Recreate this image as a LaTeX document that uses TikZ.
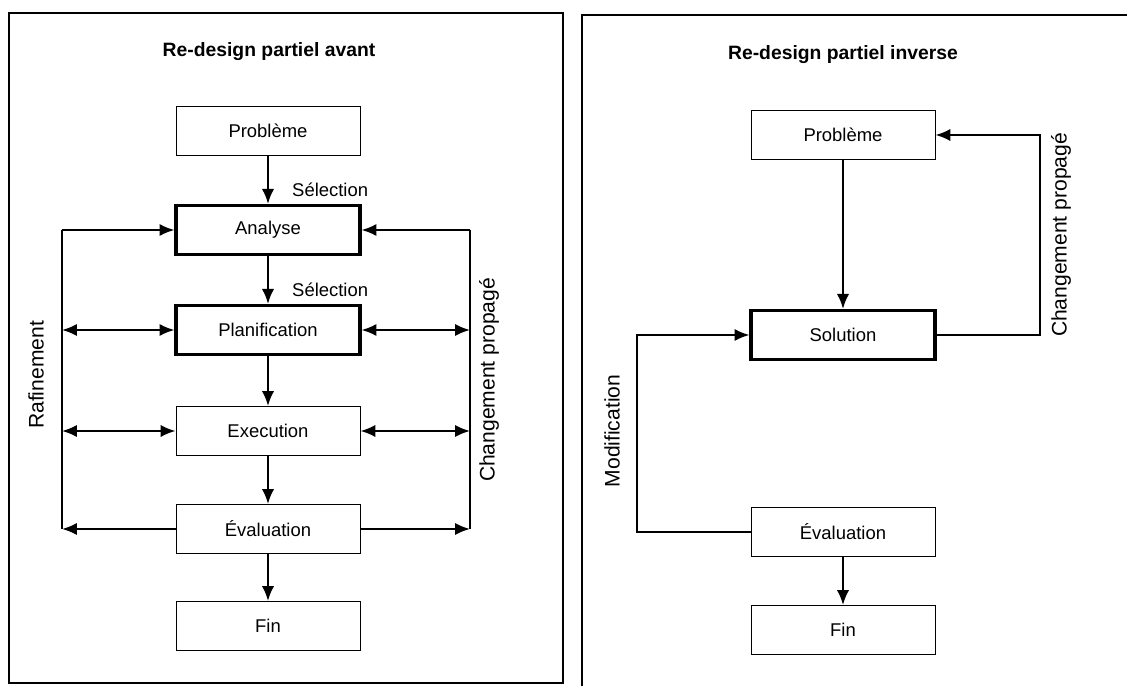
\documentclass[tikz,border=0pt]{standalone}
\usepackage{fontspec}
\setmainfont{Liberation Sans}
\usepackage{tikz}
\usetikzlibrary{positioning, calc, arrows.meta}

\tikzset{
  etape/.style={draw, line width=0.5pt, minimum width=3.68cm, minimum height=0.98cm,
    font=\fontsize{10.5}{12}\selectfont},
  etapeforte/.style={etape, line width=1.8pt},
  fleche/.style={line width=1.2pt, -{Latex[length=8.5pt,width=7pt]}},
  doublefleche/.style={line width=1.2pt, {Latex[length=8.5pt,width=7pt]}-{Latex[length=8.5pt,width=7pt]}},
  trait/.style={line width=1.2pt},
  titre/.style={font=\bfseries\fontsize{11}{13}\selectfont},
  etiquette/.style={font=\fontsize{10.5}{12}\selectfont},
  cote/.style={font=\fontsize{12}{14}\selectfont, rotate=90}
}

\begin{document}
\begin{tikzpicture}[x=0.02cm, y=-0.02cm]
  \useasboundingbox (0,0) rectangle (1127,686);

  % cadres
  \draw[line width=0.6pt] (9,13) rectangle (563,683);
  \draw[line width=0.6pt] (582,686) -- (582,15) -- (1127,15);

  % re-design partiel avant
  \node[titre] (titreA) at (269,52) {Re-design partiel avant};
  \node[etape] (probA) at (268,131) {Problème};
  \node[etapeforte] (ana) at (268,230) {Analyse};
  \node[etapeforte] (pla) at (268,330) {Planification};
  \node[etape] (exe) at (268,431) {Execution};
  \node[etape] (evaA) at (268,529) {Évaluation};
  \node[etape] (finA) at (268,626) {Fin};

  \draw[fleche] (probA) -- (ana);
  \draw[fleche] (ana) -- (pla);
  \draw[fleche] (pla) -- (exe);
  \draw[fleche] (exe) -- (evaA);
  \draw[fleche] (evaA) -- (finA);

  \node[etiquette, anchor=west] (sel1) at (286,190) {Sélection};
  \node[etiquette, anchor=west] (sel2) at (286,290) {Sélection};

  % rafinement
  \coordinate (rafH) at (62,230);
  \coordinate (rafB) at (62,529);
  \draw[trait] (rafH) -- (rafB);
  \draw[fleche] (rafH) -- (ana.west);
  \draw[doublefleche] (pla.west -| rafH) -- (pla.west);
  \draw[doublefleche] (exe.west -| rafH) -- (exe.west);
  \draw[fleche] (evaA.west) -- (rafB);
  \node[cote] (raf) at (36,375) {Rafinement};

  % changement propage
  \coordinate (chgH) at (470,230);
  \coordinate (chgB) at (470,529);
  \draw[trait] (chgH) -- (chgB);
  \draw[fleche] (chgH) -- (ana.east);
  \draw[doublefleche] (pla.east) -- (pla.east -| chgH);
  \draw[doublefleche] (exe.east) -- (exe.east -| chgH);
  \draw[fleche] (evaA.east) -- (chgB);
  \node[cote] (chgA) at (489,380) {Changement propagé};

  % re-design partiel inverse
  \node[titre] (titreB) at (843,55) {Re-design partiel inverse};
  \node[etape] (probB) at (843,135) {Problème};
  \node[etapeforte] (sol) at (843,335) {Solution};
  \node[etape] (evaB) at (843,532) {Évaluation};
  \node[etape] (finB) at (843,630) {Fin};

  \draw[fleche] (probB) -- (sol);
  \draw[fleche] (evaB) -- (finB);

  \coordinate (chgD) at (1040,135);
  \draw[fleche] (sol.east) -| (chgD) -- (probB.east);
  \node[cote] (chgB) at (1061,235) {Changement propagé};

  \coordinate (modG) at (637,532);
  \draw[fleche] (evaB.west) -- (modG) |- (sol.west);
  \node[cote] (mod) at (612,431) {Modification};
\end{tikzpicture}
\end{document}
